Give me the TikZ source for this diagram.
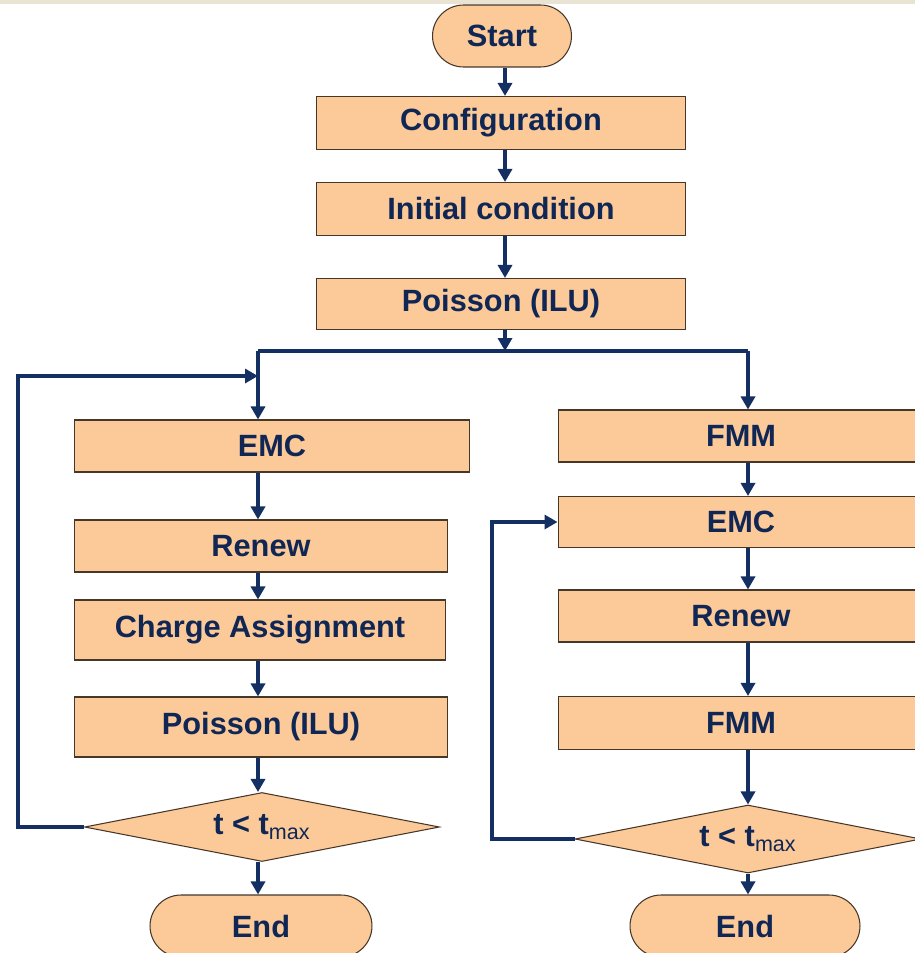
\documentclass[tikz,border=0pt]{standalone}
\usepackage{fontspec}
\setmainfont{Liberation Sans}
\usetikzlibrary{shapes.geometric,shapes.misc,arrows.meta,calc}

\definecolor{boxfill}{RGB}{251,202,152}
\definecolor{linenavy}{RGB}{20,48,98}
\definecolor{textnavy}{RGB}{16,38,84}
\definecolor{edgebrown}{RGB}{70,55,40}
\definecolor{topband}{RGB}{232,227,210}

\begin{document}
\begin{tikzpicture}[
  x=0.02cm, y=-0.02cm,
  box/.style={rectangle, draw=edgebrown, line width=0.6pt, fill=boxfill, inner sep=0pt, font=\fontsize{17.5}{20}\selectfont\bfseries, text=textnavy},
  term/.style={box, rounded rectangle, minimum height=1.24cm},
  test/.style={box, diamond, shape aspect=5.1},
  flow/.style={-{Triangle[length=2.6mm, width=2.8mm]}, line width=2.2pt, draw=linenavy},
  wire/.style={line width=2.2pt, draw=linenavy},
]

\useasboundingbox (0,0) rectangle (915,953);
\clip (0,0) rectangle (915,953);
\fill[white] (0,0) rectangle (915,953);
\fill[topband] (0,0) rectangle (915,4);

% === Common start ===
\node[term, minimum width=2.78cm] (start) at (502,36) {Start};
\node[box, minimum width=7.4cm, minimum height=1.06cm] (config) at (501,123) {Configuration};
\node[box, minimum width=7.4cm, minimum height=1.06cm] (init) at (501,209) {Initial condition};
\node[box, minimum width=7.4cm, minimum height=1.02cm] (poisson) at (501,304) {Poisson (ILU)};

\coordinate (split) at (505,351);
\coordinate (splitL) at (258,351);
\coordinate (splitR) at (748,351);

% === Left branch ===
\node[box, minimum width=7.9cm, minimum height=1.04cm] (emcL) at (272,446) {EMC};
\node[box, minimum width=7.46cm, minimum height=1.04cm] (renewL) at (261,546) {Renew};
\node[box, minimum width=7.42cm, minimum height=1.2cm] (chargeL) at (260,630) {Charge Assignment};
\node[box, minimum width=7.46cm, minimum height=1.2cm] (poissonL) at (261,727) {Poisson (ILU)};
\node[test, minimum width=7.1cm, minimum height=1.38cm] (testL) at (262,827) {t < t\textsubscript{\mdseries max}};
\node[term, minimum width=4.44cm] (endL) at (261,926) {End};
\coordinate (backL) at (18,376);

% === Right branch ===
\node[box, minimum width=7.32cm, minimum height=1.04cm] (fmmA) at (741,436) {FMM};
\node[box, minimum width=7.32cm, minimum height=1.02cm] (emcR) at (741,522) {EMC};
\node[box, minimum width=7.32cm, minimum height=1.04cm] (renewR) at (741,616) {Renew};
\node[box, minimum width=7.32cm, minimum height=1.06cm] (fmmB) at (741,723) {FMM};
\node[test, minimum width=6.92cm, minimum height=1.36cm] (testR) at (748,839) {t < t\textsubscript{\mdseries max}};
\node[term, minimum width=4.6cm] (endR) at (745,926) {End};
\coordinate (backR) at (492,522);

% === Connectors ===
\draw[flow] (start.south -| split) -- (config.north -| split);
\draw[flow] (config.south -| split) -- (init.north -| split);
\draw[flow] (init.south -| split) -- (poisson.north -| split);
\draw[flow] (poisson.south -| split) -- (split);
\draw[wire] (splitL) -- (splitR);
\draw[flow] (splitL) -- (emcL.north -| splitL);
\draw[flow] (splitR) -- (fmmA.north -| splitR);

\foreach \a/\b in {emcL/renewL, renewL/chargeL, chargeL/poissonL, poissonL/testL, testL/endL}
  \draw[flow] (\a.south -| splitL) -- (\b.north -| splitL);
\foreach \a/\b in {fmmA/emcR, emcR/renewR, renewR/fmmB, fmmB/testR, testR/endR}
  \draw[flow] (\a.south -| splitR) -- (\b.north -| splitR);

% loops back
\draw[flow] (testL.west) -| (backL) -- (backL -| splitL);
\draw[flow] (testR.west) -| (backR) -- (emcR.west);

\end{tikzpicture}
\end{document}
